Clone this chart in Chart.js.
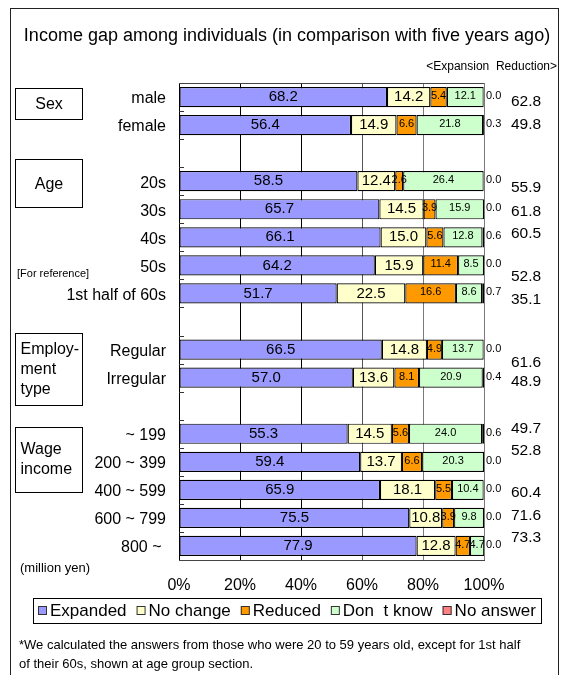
<!DOCTYPE html>
<html>
<head>
<meta charset="utf-8">
<script src="https://cdn.jsdelivr.net/npm/chart.js@4"></script>
<style>
  html, body { margin: 0; padding: 0; background: #fff; }
  #wrap { width: 564px; height: 675px; position: relative; }
</style>
</head>
<body>
<div id="wrap"><canvas id="c" width="564" height="675"></canvas></div>
<script>
// ---- data ----
const categories = ['male', 'female', '', '20s', '30s', '40s', '50s', '1st half of 60s', '',
  'Regular', 'Irregular', '', '~ 199', '200 ~ 399', '400 ~ 599', '600 ~ 799', '800 ~ '];
const expanded = [68.2, 56.4, null, 58.5, 65.7, 66.1, 64.2, 51.7, null, 66.5, 57.0, null, 55.3, 59.4, 65.9, 75.5, 77.9];
const noChange = [14.2, 14.9, null, 12.4, 14.5, 15.0, 15.9, 22.5, null, 14.8, 13.6, null, 14.5, 13.7, 18.1, 10.8, 12.8];
const reduced  = [5.4, 6.6, null, 2.6, 3.9, 5.6, 11.4, 16.6, null, 4.9, 8.1, null, 5.6, 6.6, 5.5, 3.9, 4.7];
const dontKnow = [12.1, 21.8, null, 26.4, 15.9, 12.8, 8.5, 8.6, null, 13.7, 20.9, null, 24.0, 20.3, 10.4, 9.8, 4.7];
const noAnswer = [0.0, 0.3, null, 0.0, 0.0, 0.6, 0.0, 0.7, null, 0.0, 0.4, null, 0.6, 0.0, 0.0, 0.0, 0.0];
const expansionMinusReduction = [62.8, 49.8, null, 55.9, 61.8, 60.5, 52.8, 35.1, null, 61.6, 48.9, null, 49.7, 52.8, 60.4, 71.6, 73.3];
const seriesNames = ['Expanded', 'No change', 'Reduced', 'Don  t know', 'No answer'];
const xTickValues = [0, 20, 40, 60, 80, 100];

// ---- layout / style (not data) ----
const FONT = "'Liberation Sans', Arial, sans-serif";
const colors = ['#9999FF', '#FFFFCC', '#FF9900', '#CCFFCC', '#FF8080'];
const labelSizes = [15, 15, 11, 11, 0];
const diffLabelShift = [5, 0, 0, 7, 2, -4, 11, 6, 0, 13, 4, 0, -5, -11, 3, -2, -8];
const groupBoxes = [
  { lines: ['Sex'], x: 15.5, y: 88.5, w: 67, h: 31, center: true },
  { lines: ['Age'], x: 15.5, y: 159.5, w: 67, h: 48, center: true },
  { lines: ['Employ-', 'ment', 'type'], x: 15.5, y: 333.5, w: 67, h: 72, center: false },
  { lines: ['Wage', 'income'], x: 15.5, y: 427.5, w: 67, h: 65, center: false }
];

const seriesData = [expanded, noChange, reduced, dontKnow, noAnswer];
const datasets = seriesData.map((d, i) => ({
  label: seriesNames[i],
  data: d,
  backgroundColor: colors[i],
  borderColor: '#000',
  borderWidth: 1.2,
  borderSkipped: false,
  categoryPercentage: 1,
  barPercentage: 0.72
}));

const gridColor = (ctx) => {
  const v = ctx.tick ? ctx.tick.value : 0;
  if (v <= 40) return '#000';
  if (v === 60) return '#555';
  return '#7a7a7a';
};

const textPlugin = {
  id: 'texts',
  afterDatasetsDraw(chart) {
    const ctx = chart.ctx;
    ctx.save();
    ctx.fillStyle = '#000';
    ctx.textAlign = 'center';
    ctx.textBaseline = 'middle';
    for (let di = 0; di < 4; di++) {
      const meta = chart.getDatasetMeta(di);
      ctx.font = labelSizes[di] + 'px ' + FONT;
      meta.data.forEach((el, i) => {
        const v = seriesData[di][i];
        if (v === null || v === undefined) return;
        const cx = (el.x + el.base) / 2;
        ctx.fillText(v.toFixed(1), cx, el.y + (di >= 2 ? -1 : 0));
      });
    }
    ctx.restore();
  },
  afterDraw(chart) {
    const ctx = chart.ctx;
    const area = chart.chartArea;
    const ys = chart.scales.y;
    ctx.save();
    // outer frame
    ctx.strokeStyle = '#222';
    ctx.lineWidth = 1;
    ctx.strokeRect(10.5, 8.5, 548, 700);
    // plot top border
    ctx.strokeStyle = '#444';
    ctx.beginPath();
    ctx.moveTo(area.left, area.top + 0.5);
    ctx.lineTo(area.right, area.top + 0.5);
    ctx.stroke();
    // inward tick marks on the category axis
    ctx.strokeStyle = '#333';
    for (let i = 0; i < categories.length - 1; i++) {
      const y = Math.round((ys.getPixelForValue(i) + ys.getPixelForValue(i + 1)) / 2) + 0.5;
      ctx.beginPath();
      ctx.moveTo(area.left, y);
      ctx.lineTo(area.left + 5, y);
      ctx.stroke();
    }
    ctx.fillStyle = '#000';
    // title
    ctx.font = '18px ' + FONT;
    ctx.textAlign = 'center';
    ctx.textBaseline = 'middle';
    ctx.fillText('Income gap among individuals (in comparison with five years ago)', 287, 36);
    // header for difference column
    ctx.font = '12px ' + FONT;
    ctx.textAlign = 'right';
    ctx.fillText('<Expansion  Reduction>', 557, 67);
    // category labels
    ctx.font = '16px ' + FONT;
    ctx.textAlign = 'right';
    categories.forEach((c, i) => {
      if (!c) return;
      ctx.fillText(c, 166, ys.getPixelForValue(i) + 2);
    });
    ctx.font = '11px ' + FONT;
    ctx.textAlign = 'left';
    ctx.fillText('[For reference]', 17, 274);
    ctx.font = '13px ' + FONT;
    ctx.fillText('(million yen)', 20, 568);
    // no answer values & difference values
    categories.forEach((c, i) => {
      if (noAnswer[i] === null) return;
      const y = ys.getPixelForValue(i);
      ctx.font = '11px ' + FONT;
      ctx.textAlign = 'left';
      ctx.fillText(noAnswer[i].toFixed(1), area.right + 2, y - 1);
      ctx.font = '15.5px ' + FONT;
      ctx.fillText(expansionMinusReduction[i].toFixed(1), 511, y + diffLabelShift[i]);
    });
    // group boxes
    ctx.strokeStyle = '#000';
    groupBoxes.forEach(b => {
      ctx.strokeRect(b.x, b.y, b.w, b.h);
      ctx.font = '16px ' + FONT;
      if (b.center) {
        ctx.textAlign = 'center';
        ctx.fillText(b.lines[0], b.x + b.w / 2, b.y + b.h / 2 + 1);
      } else {
        ctx.textAlign = 'left';
        const step = 20;
        const y0 = b.y + b.h / 2 - (b.lines.length - 1) * step / 2;
        b.lines.forEach((l, k) => ctx.fillText(l, b.x + 5, y0 + k * step));
      }
    });
    // legend
    ctx.strokeStyle = '#000';
    ctx.strokeRect(33.5, 598.5, 508, 25);
    ctx.font = '17px ' + FONT;
    ctx.textAlign = 'left';
    let lx = 38;
    const ly = 611;
    chart.data.datasets.forEach((ds, i) => {
      ctx.fillStyle = ds.backgroundColor;
      ctx.fillRect(lx, ly - 5, 9, 9);
      ctx.strokeStyle = '#333';
      ctx.strokeRect(lx + 0.5, ly - 4.5, 8, 8);
      ctx.fillStyle = '#000';
      ctx.fillText(ds.label, lx + 12, ly);
      lx += 12 + ctx.measureText(ds.label).width + 10;
    });
    // footnote
    ctx.font = '13px ' + FONT;
    ctx.fillText('*We calculated the answers from those who were 20 to 59 years old, except for 1st half', 19, 645);
    ctx.fillText('of their 60s, shown at age group section.', 19, 664);
    ctx.restore();
  }
};

new Chart(document.getElementById('c'), {
  type: 'bar',
  data: { labels: categories, datasets },
  options: {
    indexAxis: 'y',
    responsive: false,
    devicePixelRatio: 1,
    animation: false,
    layout: { padding: { left: 179, right: 80, top: 83, bottom: 75 } },
    plugins: { legend: { display: false }, tooltip: { enabled: false } },
    scales: {
      x: {
        stacked: true,
        min: 0,
        max: 100,
        afterBuildTicks: (s) => { s.ticks = xTickValues.map(v => ({ value: v })); },
        afterFit: (s) => { s.height = 40; },
        ticks: {
          callback: (v) => v + '%',
          font: { family: FONT, size: 16 },
          color: '#000',
          padding: 16,
          maxRotation: 0
        },
        grid: { color: gridColor, lineWidth: 1, drawTicks: false },
        border: { display: true, color: '#444', width: 1 }
      },
      y: {
        stacked: true,
        display: false
      }
    }
  },
  plugins: [textPlugin]
});
</script>
</body>
</html>
